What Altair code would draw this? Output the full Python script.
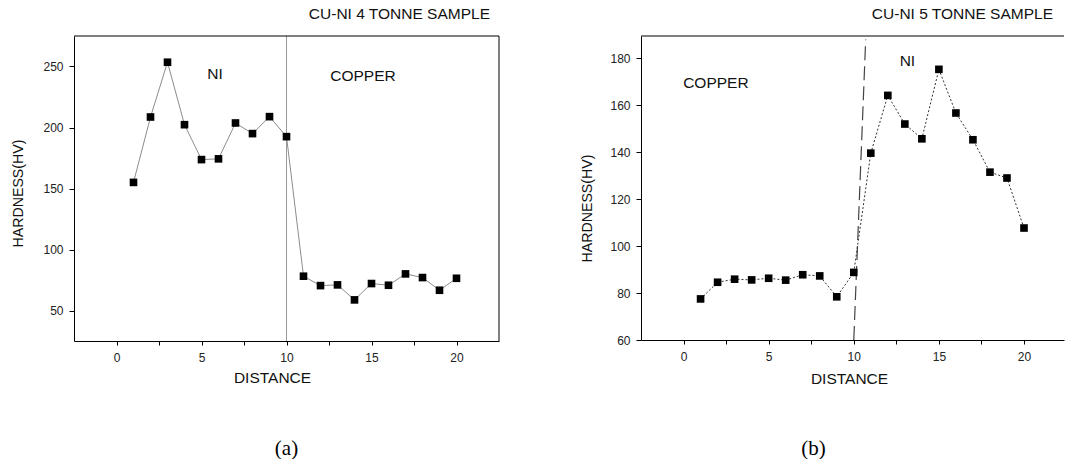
import altair as alt
import pandas as pd

# Hardness profiles across the Cu-Ni interface
distance = list(range(1, 21))
hardness_4t = [155, 208.6, 253.5, 202.3, 173.7, 174.3, 203.7, 195, 208.9, 192.5,
               78.1, 70.4, 71, 58.7, 72.1, 70.7, 80, 77, 66.6, 76.4]
hardness_5t = [77.5, 84.6, 85.9, 85.6, 86.3, 85.5, 87.8, 87.3, 78.4, 88.8,
               139.6, 164.2, 152, 145.7, 175.3, 156.7, 145.3, 131.5, 129, 107.7]

x_ticks = [0, 2.5, 5, 7.5, 10, 12.5, 15, 17.5, 20]
y_ticks_4t = [50, 75, 100, 125, 150, 175, 200, 225, 250]
y_ticks_5t = [60, 70, 80, 90, 100, 110, 120, 130, 140, 150, 160, 170, 180]

# interface markers
iface_4t_x = [10, 10]
iface_5t_x = [10.7, 10.0]
iface_5t_y = [188, 60]

# region labels: (text, distance, hardness)
regions_4t = [("NI", 5.8, 243.5), ("COPPER", 14.5, 242)]
regions_5t = [("NI", 13.15, 179), ("COPPER", 1.9, 169.5)]

FONT = "Liberation Sans"
INK = "#111111"


def axis_x(title_x, title_y):
    return alt.Axis(
        values=x_ticks, labelExpr="datum.value % 5 == 0 ? datum.label : ''",
        tickSize=4, labelPadding=7, labelOverlap=False, labelFlush=False, grid=False,
        title="DISTANCE", titleX=title_x, titleY=title_y, titleBaseline="middle",
        titleAlign="center", titleAnchor="middle", titleFontWeight="normal",
        titleFontSize=15.5,
    )


def axis_y(values, step, title_x, title_y):
    return alt.Axis(
        values=values, labelExpr=f"datum.value % {step} == 0 ? datum.label : ''",
        tickSize=5, labelPadding=6, labelOverlap=False, labelFlush=False, grid=False,
        title="HARDNESS(HV)", titleX=title_x, titleY=title_y, titleBaseline="middle",
        titleAlign="center", titleAnchor="middle", titleFontWeight="normal",
        titleFontSize=14.2,
    )


def one_row():
    return alt.Data(values=[{}])


def panel(values, W, H, xdom, ydom, yvals, ystep, ax_x, ax_y, line_kw, iface,
          regions, title, title_dx, caption, cap_x, right_frame, bound_box=False):
    df = pd.DataFrame({"distance": distance, "hardness": values})
    xs = alt.Scale(domain=xdom, nice=False, zero=False)
    ys = alt.Scale(domain=ydom, nice=False, zero=False)
    base = alt.Chart(df)

    line = base.mark_line(**line_kw).encode(
        x=alt.X("distance:Q", scale=xs, axis=axis_x(*ax_x)),
        y=alt.Y("hardness:Q", scale=ys, axis=axis_y(yvals, ystep, *ax_y)),
    )
    pts = base.mark_point(shape="square", filled=True, size=58, color="black",
                          opacity=1).encode(x="distance:Q", y="hardness:Q")

    reg_df = pd.DataFrame(regions, columns=["label", "distance", "hardness"])
    reg = alt.Chart(reg_df).mark_text(font=FONT, fontSize=15.5, color=INK,
                                      baseline="middle").encode(
        x=alt.X("distance:Q", scale=xs), y=alt.Y("hardness:Q", scale=ys), text="label:N")

    top = alt.Chart(one_row()).mark_rule(color="black", strokeWidth=1).encode(
        x=alt.value(0), x2=alt.value(W), y=alt.value(0))
    ttl = alt.Chart(one_row()).mark_text(
        text=title, font=FONT, fontSize=15.5, color=INK, align="right",
        baseline="alphabetic").encode(x=alt.value(W + title_dx), y=alt.value(-17.5))
    cap = alt.Chart(one_row()).mark_text(
        text=caption, font="Liberation Serif", fontSize=21, color="black",
        align="center", baseline="middle").encode(x=alt.value(cap_x), y=alt.value(413))

    layers = [iface, line, pts, reg, top, ttl, cap]
    if right_frame:
        layers.append(alt.Chart(one_row()).mark_rule(color="black", strokeWidth=1).encode(
            x=alt.value(W), y=alt.value(0), y2=alt.value(H)))
    if bound_box:
        # fixes the page's top-left corner so the panels sit at a known offset
        layers.append(alt.Chart(one_row()).mark_rect(opacity=0).encode(
            x=alt.value(-74), x2=alt.value(-73), y=alt.value(-36), y2=alt.value(-35)))
    return alt.layer(*layers).properties(width=W, height=H)


# panel (a): 4 tonne sample
W1, H1 = 425, 305
xs1 = alt.Scale(domain=[-2.5, 22.5], nice=False, zero=False)
iface1 = alt.Chart(pd.DataFrame({"distance": iface_4t_x[:1]})).mark_rule(
    color="#9a9a9a", strokeWidth=1).encode(
    x=alt.X("distance:Q", scale=xs1), y=alt.value(0), y2=alt.value(H1))
left = panel(hardness_4t, W1, H1, [-2.5, 22.5], [25, 275], y_ticks_4t, 50,
             (198, 36), (-56, 157), dict(color="#8c8c8c", strokeWidth=1),
             iface1, regions_4t, "CU-NI 4 TONNE SAMPLE", -9, "(a)", 212.5,
             right_frame=True, bound_box=True)

# panel (b): 5 tonne sample
W2, H2 = 423, 304
xs2 = alt.Scale(domain=[-2.5, 22.35], nice=False, zero=False)
ys2 = alt.Scale(domain=[60, 189.5], nice=False, zero=False)
iface2 = alt.Chart(pd.DataFrame({"distance": iface_5t_x, "hardness": iface_5t_y})).mark_line(
    color="#444444", strokeWidth=1.2, strokeDash=[14, 6]).encode(
    x=alt.X("distance:Q", scale=xs2), y=alt.Y("hardness:Q", scale=ys2))
right = panel(hardness_5t, W2, H2, [-2.5, 22.35], [60, 189.5], y_ticks_5t, 20,
              (208, 38), (-54, 172), dict(color="#333333", strokeWidth=1, strokeDash=[2, 2]),
              iface2, regions_5t, "CU-NI 5 TONNE SAMPLE", -11, "(b)", 172.5,
              right_frame=False)

chart = alt.hconcat(left, right, spacing=142, bounds="flush").properties(
    padding={"left": 0, "top": 0, "right": 0, "bottom": 0},
    background="white",
).configure_view(stroke=None).configure_axis(
    grid=False, domainColor="black", domainWidth=1, tickColor="black", tickWidth=1,
    labelFont=FONT, labelFontSize=12, labelColor="#222222",
    titleFont=FONT, titleFontWeight="normal", titleColor=INK,
)

chart.save("out.html", embed_options={"renderer": "svg", "actions": False})
